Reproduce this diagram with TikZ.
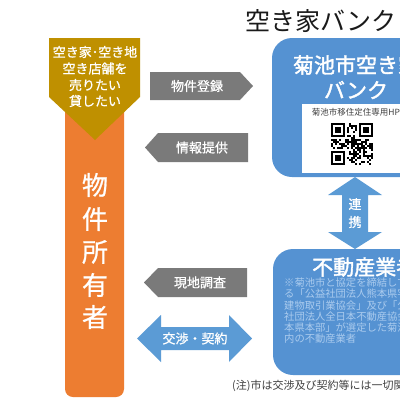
\documentclass[tikz,border=0pt]{standalone}
\usepackage{fontspec}
\setmainfont{Noto Sans CJK JP}
\newfontfamily\jpmed{Noto Sans CJK JP}[FakeBold=0.8]
\newfontfamily\jpsemi{Noto Sans CJK JP}[FakeBold=1.8]
\definecolor{goldc}{HTML}{BF9000}
\definecolor{orangec}{HTML}{ED7D31}
\definecolor{grayc}{HTML}{7A7A7A}
\definecolor{bluea}{HTML}{5B9BD5}
\definecolor{blueb}{HTML}{5592D2}
\definecolor{lightb}{HTML}{AACBEE}
\definecolor{titlec}{HTML}{1A1A1A}
\definecolor{notec}{HTML}{404040}
\tikzset{
  wlab/.style={text=white, inner sep=0pt, font=\jpmed\fontsize{13}{13}\selectfont},
  bodyline/.style={anchor=west, text=lightb, inner sep=0pt, font=\fontsize{10.3}{11}\selectfont},
  boxtitle/.style={text=white, inner sep=0pt, font=\jpsemi\fontsize{21}{21}\selectfont},
  grayarrow/.style={fill=grayc},
  bluearrow/.style={fill=bluea},
  bluebox/.style={fill=blueb, rounded corners=20pt}
}
\begin{document}
\begin{tikzpicture}[x=1pt,y=-1pt]
\useasboundingbox (0,0) rectangle (400,400);
\clip (0,0) rectangle (400,400);
\fill[white] (0,0) rectangle (400,400);
% title
\node[anchor=west, text=titlec, inner sep=0pt, font=\fontsize{25}{25}\selectfont] (title) at (245,21) {空き家バンク};
% owner column
\fill[orangec, rounded corners=8pt] (65,100) rectangle (124,397);
\fill[goldc] (49,38) -- (140,38) -- (140,97) -- (95,140) -- (49,97) -- cycle;
\node[wlab] (w1) at (95,52) {空き家･空き地};
\node[wlab] (w2) at (95,68.5) {空き店舗を};
\node[wlab] (w3) at (95,85) {売りたい};
\node[wlab] (w4) at (95,101) {貸したい};
\foreach \c/\yy/\nm in {物/185/o1,件/219/o2,所/252/o3,有/285/o4,者/317/o5}
  \node[text=white, inner sep=0pt, font=\jpmed\fontsize{26}{26}\selectfont] (\nm) at (95,\yy) {\c};
% gray arrows
\fill[grayarrow] (150,72) -- (240,72) -- (253,86) -- (240,100) -- (150,100) -- cycle;
\node[wlab] (a1) at (197,86) {物件登録};
\fill[grayarrow] (145,147.5) -- (158,133) -- (248,133) -- (248,162) -- (158,162) -- cycle;
\node[wlab] (a2) at (202,147.5) {情報提供};
\fill[grayarrow] (144,282.5) -- (158,268) -- (247,268) -- (247,297) -- (158,297) -- cycle;
\node[wlab] (a3) at (200,282.5) {現地調査};
% blue double arrow horizontal
\fill[bluearrow] (137,338.5) -- (161,315) -- (161,327) -- (229,327) -- (229,315) -- (252,338.5) -- (229,362) -- (229,350) -- (161,350) -- (161,362) -- cycle;
\node[wlab] (a4) at (195,338.5) {交渉・契約};
% bank box
\fill[bluebox] (272,38) rectangle (440,177);
\node[boxtitle] (b1) at (356,65) {菊池市空き家};
\node[boxtitle] (b2) at (356,90) {バンク};
\fill[white] (302,104) rectangle (410,173);
\node[text=notec, inner sep=0pt, font=\fontsize{8.5}{8.5}\selectfont] (hp) at (356,112.5) {菊池市移住定住専用HP};
\begin{scope}[shift={(331,123)}]
  \pgfmathsetseed{12}
  \foreach \i in {0,...,20}{
    \foreach \j in {0,...,20}{
      \pgfmathtruncatemacro\qr{rnd<0.5}
      \ifnum\qr=1 \fill[black] (2*\i,2*\j) rectangle ++(2,2); \fi
    }
  }
  \foreach \fx/\fy/\wx/\wy in {0/0/0/0,28/0/26/0,0/28/0/26}{
    \fill[white] (\wx,\wy) rectangle ++(16,16);
    \fill[black] (\fx,\fy) rectangle ++(14,14);
    \fill[white] (\fx+2,\fy+2) rectangle ++(10,10);
    \fill[black] (\fx+4,\fy+4) rectangle ++(6,6);
  }
\end{scope}
% vertical double arrow
\fill[bluearrow] (355,177) -- (382,195) -- (368,195) -- (368,232) -- (382,232) -- (355,249) -- (328,232) -- (342,232) -- (342,195) -- (328,195) -- cycle;
\node[wlab] (r1) at (355,204) {連};
\node[wlab] (r2) at (355,222) {携};
% agent box
\fill[bluebox] (273,249) rectangle (450,375);
\node[boxtitle, anchor=west] (f1) at (312,267) {不動産業者};
\node[bodyline] (l1) at (284,283) {※菊池市と協定を締結してい};
\node[bodyline] (l2) at (284,294) {る「公益社団法人熊本県宅地};
\node[bodyline] (l3) at (284,305.5) {建物取引業協会」及び「公益};
\node[bodyline] (l4) at (284,316.5) {社団法人全日本不動産協会熊};
\node[bodyline] (l5) at (284,327.5) {本県本部」が選定した菊池市};
\node[bodyline] (l6) at (284,338.5) {内の不動産業者};
% note
\node[anchor=west, text=notec, inner sep=0pt, font=\fontsize{11}{11}\selectfont] (note) at (232,386) {(注)市は交渉及び契約等には一切関与しません。};
\end{tikzpicture}
\end{document}
